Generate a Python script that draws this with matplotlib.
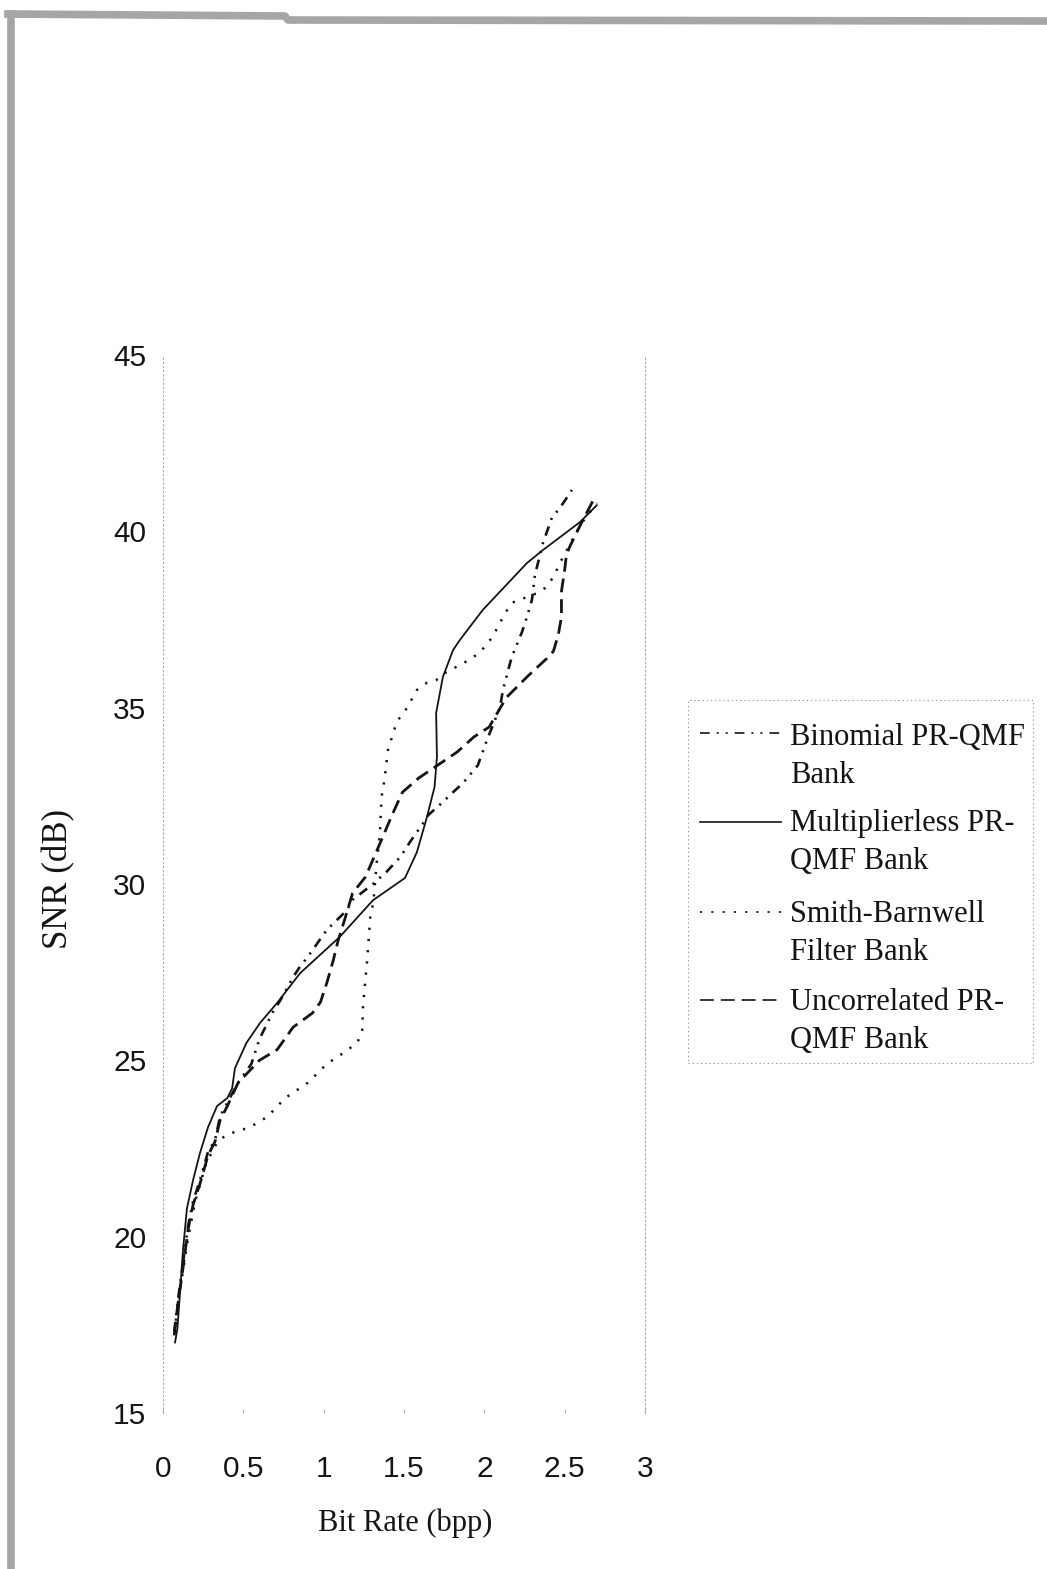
import matplotlib
matplotlib.use("Agg")
import matplotlib.pyplot as plt
from matplotlib.lines import Line2D
from matplotlib.patches import Rectangle

plt.rcParams['lines.scale_dashes'] = False

# bit rate (bpp) / SNR (dB)
binomial_x = [0.07, 0.09, 0.124, 0.156, 0.187, 0.23, 0.28, 0.324, 0.355, 0.40, 0.467, 0.55,
              0.60, 0.65, 0.68, 0.73, 0.81, 0.85, 0.90, 1.02, 1.145, 1.18, 1.307, 1.39, 1.46,
              1.506, 1.537, 1.58, 1.62, 1.65, 1.736, 1.80, 1.867, 1.92, 1.96, 2.016, 2.097,
              2.116, 2.17, 2.234, 2.265, 2.296, 2.315, 2.365, 2.42, 2.47, 2.545]
binomial_y = [17.3, 18.1, 19.25, 20.3, 21.0, 21.6, 22.4, 22.74, 23.4, 23.8, 24.36, 24.9,
              25.6, 26.06, 26.34, 26.7, 27.36, 27.64, 27.93, 28.7, 29.26, 29.55, 30.0, 30.34, 30.68,
              30.96, 31.19, 31.47, 31.73, 31.95, 32.3, 32.58, 32.86, 33.15, 33.37, 34.08, 35.0,
              35.5, 36.43, 37.14, 37.57, 38.05, 38.76, 39.67, 40.38, 40.66, 41.17]

multi_x = [0.075, 0.09, 0.124, 0.149, 0.187, 0.23, 0.28, 0.336, 0.40, 0.43, 0.448, 0.52,
           0.604, 0.709, 0.853, 1.10, 1.307, 1.506, 1.58, 1.643, 1.69, 1.705, 1.70, 1.742,
           1.805, 1.848, 1.99, 2.265, 2.365, 2.595, 2.70]
multi_y = [17.0, 17.4, 19.6, 20.8, 21.6, 22.37, 23.1, 23.7, 23.93, 24.2, 24.78, 25.5,
           26.06, 26.62, 27.47, 28.5, 29.54, 30.17, 30.9, 31.9, 32.75, 33.6, 34.85, 35.87,
           36.63, 36.92, 37.77, 39.1, 39.47, 40.26, 40.74]

smith_x = [0.07, 0.10, 0.15, 0.20, 0.27, 0.34, 0.40, 0.54, 0.65, 0.76, 0.90, 1.02, 1.12,
           1.21, 1.24, 1.245, 1.27, 1.29, 1.31, 1.33, 1.35, 1.36, 1.38, 1.40, 1.455, 1.52,
           1.58, 1.64, 1.70, 1.76, 1.87, 1.97, 2.05, 2.13, 2.17, 2.33, 2.38, 2.43, 2.47,
           2.60, 2.70]
smith_y = [17.3, 18.3, 19.8, 21.0, 22.1, 22.7, 22.9, 23.1, 23.4, 23.93, 24.36, 24.9, 25.2,
           25.5, 25.86, 26.57, 27.8, 29.06, 29.5, 30.6, 31.4, 32.46, 33.0, 33.8, 34.6, 35.0,
           35.5, 35.7, 35.78, 36.0, 36.26, 36.55, 37.0, 37.68, 37.97, 38.25, 38.4, 38.7, 39.1,
           40.2, 40.8]

uncor_x = [0.07, 0.09, 0.124, 0.156, 0.187, 0.23, 0.28, 0.324, 0.355, 0.40, 0.467, 0.60,
           0.71, 0.81, 0.93, 0.98, 1.02, 1.06, 1.09, 1.13, 1.18, 1.26, 1.36, 1.425, 1.49,
           1.59, 1.71, 1.83, 1.935, 2.03, 2.10, 2.14, 2.265, 2.39, 2.43, 2.46, 2.48, 2.48,
           2.50, 2.51, 2.53, 2.60, 2.68]
uncor_y = [17.2, 18.0, 19.1, 20.2, 20.9, 21.5, 22.3, 22.7, 23.3, 23.7, 24.36, 25.0,
           25.3, 25.94, 26.34, 26.65, 27.2, 27.84, 28.4, 28.98, 29.74, 30.2, 31.25, 31.95, 32.6,
           33.0, 33.37, 33.74, 34.17, 34.45, 35.0, 35.3, 35.87, 36.4, 36.6, 37.06, 37.57, 38.3,
           38.9, 39.3, 39.55, 40.2, 40.9]

x_ticks = [0, 0.5, 1, 1.5, 2, 2.5, 3]
x_labels = ['0', '0.5', '1', '1.5', '2', '2.5', '3']
y_ticks = [15, 20, 25, 30, 35, 40, 45]

W, H = 1047, 1569
ink = '#141414'
styles = {
    'binomial': dict(ls=(0, (7, 5, 1.5, 5, 1.5, 5)), lw=1.9),
    'multi': dict(ls='-', lw=1.3),
    'smith': dict(ls=(0, (1.6, 6.5)), lw=1.8),
    'uncor': dict(ls=(0, (10, 5)), lw=2.0),
}

def fx(px):
    return px / W

def fy(py):
    return 1 - py / H

fig = plt.figure(figsize=(W / 100, H / 100), dpi=100)
ax = fig.add_axes([fx(163), fy(1413), (645 - 163) / W, (1413 - 355) / H])

ax.plot(binomial_x, binomial_y, color=ink, **styles['binomial'])
ax.plot(multi_x, multi_y, color=ink, **styles['multi'])
ax.plot(smith_x, smith_y, color=ink, **styles['smith'])
ax.plot(uncor_x, uncor_y, color=ink, **styles['uncor'])

ax.set_xlim(0, 3)
ax.set_ylim(15, 45)
ax.set_xticks(x_ticks)
ax.set_xticklabels(x_labels)
ax.set_yticks(y_ticks)

for side in ['top', 'bottom']:
    ax.spines[side].set_visible(False)
for side in ['left', 'right']:
    ax.spines[side].set_linestyle((0, (1, 2)))
    ax.spines[side].set_color('#aaaaaa')
    ax.spines[side].set_linewidth(0.8)

ax.tick_params(axis='x', length=3, width=0.8, color='#b0b0b0', direction='in', pad=30,
               labelsize=21.5, labelcolor=ink)
ax.tick_params(axis='y', length=0, pad=12, labelsize=21.5, labelcolor=ink)
for lab in ax.get_xticklabels() + ax.get_yticklabels():
    lab.set_family('Liberation Sans')

ax.set_xlabel('Bit Rate (bpp)', family='Liberation Serif', fontsize=22, color=ink)
ax.set_ylabel('SNR (dB)', family='Liberation Serif', fontsize=25, color=ink)
ax.xaxis.set_label_coords(0.502, -0.090)
ax.yaxis.set_label_coords(-0.182, 0.505)

# legend box drawn by hand so each marker sits on the first line of its label
fig.add_artist(Rectangle((fx(688), fy(1063)), (1033 - 688) / W, (1063 - 700) / H,
                         transform=fig.transFigure, fill=False, ec='#9a9a9a',
                         lw=0.8, ls=(0, (1, 2))))
entries = [
    ('binomial', 733, ['Binomial PR-QMF', 'Bank'], [745, 783]),
    ('multi', 822, ['Multiplierless PR-', 'QMF Bank'], [831, 869]),
    ('smith', 912, ['Smith-Barnwell', 'Filter Bank'], [922, 960]),
    ('uncor', 1000, ['Uncorrelated PR-', 'QMF Bank'], [1010, 1048]),
]
for key, hy, lines, bases in entries:
    st = dict(styles[key])
    st['lw'] = 1.2
    fig.add_artist(Line2D([fx(700), fx(781)], [fy(hy), fy(hy)], transform=fig.transFigure,
                          color=ink, **st))
    for txt, b in zip(lines, bases):
        fig.text(fx(790), fy(b), txt, family='Liberation Serif', fontsize=22,
                 color=ink, va='baseline', ha='left')

# grey edge of the scanned page
edge = '#a6a6a6'
fig.add_artist(Line2D([fx(11), fx(11)], [fy(14), fy(1569)], transform=fig.transFigure,
                      color=edge, lw=5.5))
fig.add_artist(Line2D([fx(8), fx(285), fx(288), fx(1047)], [fy(14), fy(16), fy(20), fy(21)],
                      transform=fig.transFigure, color=edge, lw=5.5))

fig.savefig('out.png', dpi=100)
